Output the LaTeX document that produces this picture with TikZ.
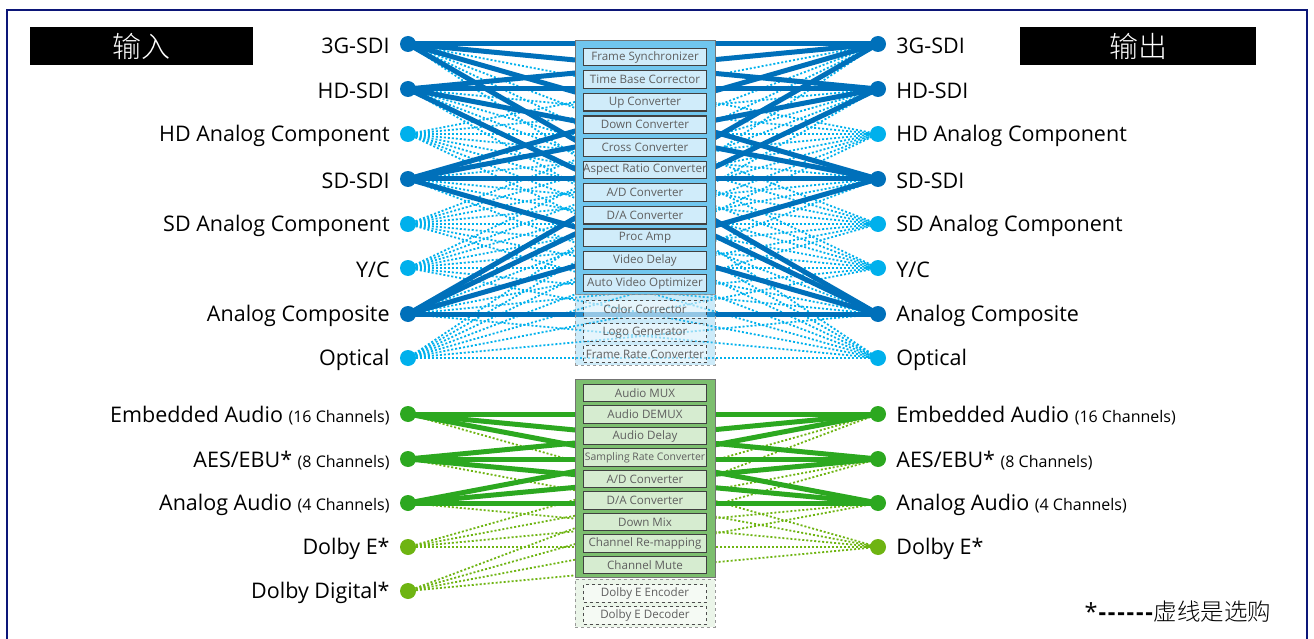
\documentclass[tikz,border=0pt]{standalone}
\usepackage{fontspec}
\setmainfont{Open Sans}
\newfontfamily\cjk{Noto Sans CJK SC}
\newfontfamily\cjklight{Noto Sans CJK SC Light}
\usetikzlibrary{positioning}
\definecolor{vsolid}{RGB}{0,112,186}
\definecolor{vdot}{RGB}{0,176,236}
\definecolor{vfill}{RGB}{112,198,238}
\definecolor{vbox}{RGB}{208,236,250}
\definecolor{asolid}{RGB}{44,168,32}
\definecolor{adot}{RGB}{110,180,18}
\definecolor{afill}{RGB}{124,190,110}
\definecolor{abox}{RGB}{214,236,208}
\definecolor{frameblue}{RGB}{12,22,120}
\definecolor{fntext}{RGB}{95,95,95}
\pgfdeclarelayer{bg}
\pgfsetlayers{bg,main}
\tikzstyle{port}   = [circle, inner sep=0pt, minimum size=16pt]
\tikzstyle{lbl}    = [inner sep=1pt, yshift=-2pt, font=\fontsize{21.5}{24}\selectfont]
\tikzstyle{hdr}    = [rectangle, fill=black, text=white, minimum height=38pt, font=\cjklight\fontsize{29}{30}\selectfont]
\tikzstyle{vblk}   = [rectangle, draw=black!55, line width=1pt, fill=vfill, minimum width=140pt]
\tikzstyle{ablk}   = [rectangle, draw=black!55, line width=1pt, fill=afill, minimum width=140pt]
\tikzstyle{optblk} = [rectangle, draw=black!40, dashed, line width=0.8pt, minimum width=140pt]
\tikzstyle{fn}     = [rectangle, draw=black!75, line width=1.2pt, minimum width=123pt, minimum height=17.5pt, inner sep=0pt, text=fntext, font=\fontsize{11.6}{12}\selectfont]
\tikzstyle{fnopt}  = [rectangle, draw=black!70, dashed, line width=1pt, fill=white, fill opacity=0.5, text opacity=1, minimum width=123pt, minimum height=17.5pt, inner sep=0pt, text=fntext, font=\fontsize{11.6}{12}\selectfont]
\tikzstyle{vline}  = [draw=vsolid, line width=5pt]
\tikzstyle{vdline} = [draw=vdot, line width=1.8pt, dash pattern=on 2pt off 2pt]
\tikzstyle{aline}  = [draw=asolid, line width=5pt]
\tikzstyle{adline} = [draw=adot, line width=1.8pt, dash pattern=on 2pt off 2pt]
\begin{document}
\begin{tikzpicture}[x=1pt, y=-1pt]
    \useasboundingbox (0,0) rectangle (1314,639);
    \draw[frameblue, line width=2.5pt] (7,670) -- (7,10) -- (1307,10) -- (1307,670);

    \node[hdr, minimum width=223pt] (inhdr) at (141.5,46) {输入};
    \node[hdr, minimum width=236pt] (outhdr) at (1138,46.5) {输出};

    % video ports
    \foreach \n/\y/\c/\t in {1/44/vsolid/3G-SDI, 2/89/vsolid/HD-SDI, 3/134/vdot/HD Analog Component,
        4/179/vsolid/SD-SDI, 5/224/vdot/SD Analog Component, 6/268/vdot/{Y/C},
        7/314/vsolid/Analog Composite, 8/358/vdot/Optical} {
        \node[port, fill=\c] (vi\n) at (408,\y) {};
        \node[lbl, left=9pt of vi\n] (vil\n) {\t};
        \node[port, fill=\c] (vo\n) at (878,\y) {};
        \node[lbl, right=9pt of vo\n] (vol\n) {\t};
    }

    % audio ports
    \foreach \n/\y/\c/\t/\s in {1/414/asolid/Embedded Audio/(16 Channels), 2/459/asolid/{AES/EBU*}/(8 Channels),
        3/503/asolid/Analog Audio/(4 Channels), 4/547/adot/Dolby E*/} {
        \node[port, fill=\c] (ai\n) at (408,\y) {};
        \node[lbl, left=9pt of ai\n] (ail\n) {\t\ {\fontsize{16}{17}\selectfont\s}};
        \node[port, fill=\c] (ao\n) at (878,\y) {};
        \node[lbl, right=9pt of ao\n] (aol\n) {\t\ {\fontsize{16}{17}\selectfont\s}};
    }
    \node[port, fill=adot] (ai5) at (408,591) {};
    \node[lbl, left=9pt of ai5] (ail5) {Dolby Digital*};

    \begin{pgfonlayer}{bg}
        \foreach \a in {1,...,8} \foreach \b in {1,...,8}
            \path[vdline] (vi\a.center) -- (vo\b.center);
        \foreach \a in {1,2,4,7} \foreach \b in {1,2,4,7}
            \path[vline] (vi\a.center) -- (vo\b.center);
        \foreach \a in {1,...,5} \foreach \b in {1,...,4}
            \path[adline] (ai\a.center) -- (ao\b.center);
        \foreach \a in {1,2,3} \foreach \b in {1,2,3}
            \path[aline] (ai\a.center) -- (ao\b.center);
    \end{pgfonlayer}

    % video block
    \node[vblk, minimum height=253pt] (vblock) at (645,167.5) {};
    \foreach \k/\t in {1/Frame Synchronizer, 2/Time Base Corrector, 3/Up Converter, 4/Down Converter,
        5/Cross Converter, 6/Aspect Ratio Converter, 7/{A/D Converter}, 8/{D/A Converter},
        9/Proc Amp, 10/Video Delay, 11/Auto Video Optimizer}
        \node[fn, fill=vbox] (vf\k) at (645,{57+22.6*(\k-1)}) {\t};
    \node[optblk, fill=vfill, fill opacity=0.35, minimum height=71pt] (vopt) at (645,329.5) {};
    \node[fnopt] (vo1f) at (645,309.5) {Color Corrector};
    \node[fnopt] (vo2f) at (645,332.5) {Logo Generator};
    \node[fnopt] (vo3f) at (645,354) {Frame Rate Converter};

    % audio block
    \node[ablk, minimum height=198pt] (ablock) at (645,478) {};
    \foreach \k/\t in {1/Audio MUX, 2/Audio DEMUX, 3/Audio Delay, 4/{\fontsize{10.4}{11}\selectfont Sampling Rate Converter},
        5/{A/D Converter}, 6/{D/A Converter}, 7/Down Mix, 8/Channel Re-mapping, 9/Channel Mute}
        \node[fn, fill=abox] (af\k) at (645,{393+21.5*(\k-1)}) {\t};
    \node[optblk, fill=afill, fill opacity=0.15, minimum height=48pt] (aopt) at (645,603) {};
    \node[fnopt] (ao1f) at (645,593.5) {Dolby E Encoder};
    \node[fnopt] (ao2f) at (645,615.5) {Dolby E Decoder};

    \node[inner sep=0pt, font=\fontsize{23.5}{25}\selectfont] (note) at (1178,612)
        {*{\bfseries\kern1pt{-}\kern1.8pt{-}\kern1.8pt{-}\kern1.8pt{-}\kern1.8pt{-}\kern1.8pt{-}}\kern1pt{\cjklight 虚线是选购}};
\end{tikzpicture}
\end{document}
